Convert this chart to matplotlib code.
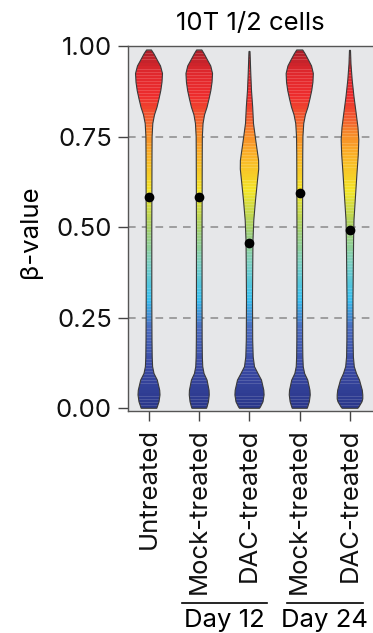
import numpy as np
import matplotlib
matplotlib.use('Agg')
import matplotlib.pyplot as plt
from matplotlib.colors import LinearSegmentedColormap
from matplotlib.patches import Polygon
from matplotlib.transforms import blended_transform_factory

plt.rcParams['font.family'] = ['Inter', 'DejaVu Sans']

W, H = 373, 633

groups = ['Untreated', 'Mock-treated', 'DAC-treated', 'Mock-treated', 'DAC-treated']
medians = [0.583, 0.584, 0.455, 0.594, 0.493]

# violin outlines: beta level and relative density
lev_untreated = [0.0, 0.004, 0.018, 0.037, 0.05, 0.078, 0.096, 0.115, 0.142, 0.188, 0.3, 0.4, 0.5,
                 0.6, 0.7, 0.75, 0.786, 0.81, 0.831, 0.854, 0.877, 0.9, 0.924, 0.945, 0.96, 0.978, 0.989]
den_untreated = [7.8, 8.3, 10.0, 11.0, 10.7, 8.3, 5.0, 3.6, 3.2, 3.0, 2.8, 2.8, 2.8,
                 2.9, 3.0, 3.1, 3.8, 5.5, 8.0, 10.0, 11.8, 13.0, 13.5, 11.5, 8.5, 5.0, 2.4]

lev_mock12 = lev_untreated
den_mock12 = [7.3, 7.8, 9.2, 10.0, 9.8, 7.8, 4.8, 3.5, 3.1, 2.9, 2.8, 2.8, 2.8,
              2.9, 3.0, 3.1, 3.8, 5.3, 7.8, 9.8, 11.6, 12.8, 13.3, 11.5, 8.5, 5.0, 2.6]

lev_dac12 = [0.0, 0.004, 0.018, 0.037, 0.05, 0.078, 0.096, 0.115, 0.142, 0.188, 0.3, 0.409, 0.464,
             0.519, 0.574, 0.629, 0.66, 0.684, 0.70, 0.739, 0.786, 0.831, 0.877, 0.923, 0.97, 0.985]
den_dac12 = [10.0, 11.0, 13.5, 14.6, 14.3, 12.0, 8.5, 5.0, 3.7, 3.2, 3.0, 3.3, 3.5,
             4.3, 6.0, 8.0, 9.2, 9.1, 8.3, 6.3, 4.0, 3.2, 2.0, 1.3, 0.7, 0.5]

lev_mock24 = lev_untreated
den_mock24 = [7.5, 8.0, 9.6, 10.5, 10.2, 8.0, 4.9, 3.5, 3.1, 2.9, 2.8, 2.8, 2.8,
              2.9, 3.0, 3.2, 4.0, 5.7, 8.2, 10.2, 12.0, 13.2, 13.6, 11.8, 9.0, 5.5, 3.0]

lev_dac24 = [0.0, 0.004, 0.018, 0.026, 0.037, 0.05, 0.078, 0.096, 0.115, 0.142, 0.188, 0.3, 0.409,
             0.464, 0.52, 0.585, 0.649, 0.70, 0.741, 0.775, 0.814, 0.86, 0.906, 0.95, 0.988]
den_dac24 = [7.8, 9.0, 12.0, 12.8, 12.8, 12.3, 9.5, 6.5, 4.3, 3.4, 3.1, 3.0, 3.4,
             3.6, 4.0, 5.5, 7.0, 8.3, 8.8, 8.0, 6.2, 4.0, 2.2, 1.0, 0.5]

levels = [lev_untreated, lev_mock12, lev_dac12, lev_mock24, lev_dac24]
dens = [den_untreated, den_mock12, den_dac12, den_mock24, den_dac24]

yticks = [0.0, 0.25, 0.5, 0.75, 1.0]
ytick_labels = ['0.00', '0.25', '0.50', '0.75', '1.00']

cmap = LinearSegmentedColormap.from_list('beta', [
    (0.00, '#2a378a'), (0.12, '#3b4ba6'), (0.22, '#4a6cc0'), (0.30, '#38c0f0'),
    (0.40, '#7ccfc2'), (0.50, '#a8d068'), (0.60, '#f3e528'), (0.70, '#fbb128'),
    (0.75, '#f7902a'), (0.80, '#f25c30'), (0.86, '#ee2d2e'), (0.93, '#e0282d'),
    (1.00, '#9e1c28')])

# striped gradient image
N = 1200
v = (np.arange(N) + 0.5) / N
bh = 0.0085
band = np.floor(v / bh)
col = cmap(np.clip((band + 0.5) * bh, 0, 1))[:, :3]
light = ((v / bh) % 1) > 0.72
col[light] = col[light] * 0.85 + 0.15
stripes = col[:, None, :]

fig = plt.figure(figsize=(W / 100, H / 100), dpi=100)
ax = fig.add_axes([128 / W, 1 - 410.7 / H, 1 - 128 / W, (410.7 - 46) / H])
ax.set_facecolor('#e6e7e9')

scale = 1 / 50.25
for i, (lev, d) in enumerate(zip(levels, dens)):
    pos = i + 1
    lev = np.asarray(lev)
    hw = np.asarray(d) * scale
    xs = np.concatenate([pos - hw, (pos + hw)[::-1]])
    ys = np.concatenate([lev, lev[::-1]])
    poly = Polygon(np.column_stack([xs, ys]), closed=True, facecolor='none',
                   edgecolor='#3a3a3a', lw=0.8, zorder=4)
    ax.add_patch(poly)
    im = ax.imshow(stripes, extent=[pos - hw.max(), pos + hw.max(), 0, 1], origin='lower',
                   aspect='auto', interpolation='nearest', zorder=3)
    im.set_clip_path(poly)

ax.plot(range(1, 6), medians, 'o', color='black', markersize=6, zorder=5)

for yv in [0.25, 0.5, 0.75]:
    ax.axhline(yv, color='#8a8a8a', lw=1.1, ls=(0, (5, 4)), zorder=1)

fs = 18.5
ax.set_xlim(0.582, 5.458)
ax.set_ylim(-0.0066, 1.0)
ax.set_yticks(yticks)
ax.set_yticklabels(ytick_labels)
ax.set_xticks(range(1, 6))
ax.set_xticklabels(groups, rotation=90)
ax.tick_params(axis='both', labelsize=fs, length=7.5, width=1.0, color='#444444', labelcolor='#111111')
ax.tick_params(axis='y', pad=4)
ax.tick_params(axis='x', pad=5)
for s in ['left', 'top', 'bottom']:
    ax.spines[s].set_color('#555555')
    ax.spines[s].set_linewidth(1.0)
ax.spines['right'].set_visible(False)

fig.text(250 / W, 1 - 30 / H, '10T 1/2 cells', ha='center', va='baseline', fontsize=fs)
fig.text(30 / W, 1 - 232 / H, 'β-value', ha='center', va='center', rotation=90, fontsize=fs)

tr = blended_transform_factory(ax.transData, fig.transFigure)
for x0, x1, lab in [(2 - 0.34, 3 + 0.34, 'Day 12'), (4 - 0.26, 5 + 0.26, 'Day 24')]:
    ax.plot([x0, x1], [1 - 603 / H] * 2, color='black', lw=1.2, transform=tr, clip_on=False)
    ax.text((x0 + x1) / 2, 1 - 627 / H, lab, transform=tr, ha='center', va='baseline', fontsize=fs)

fig.savefig('out.png', dpi=100)
